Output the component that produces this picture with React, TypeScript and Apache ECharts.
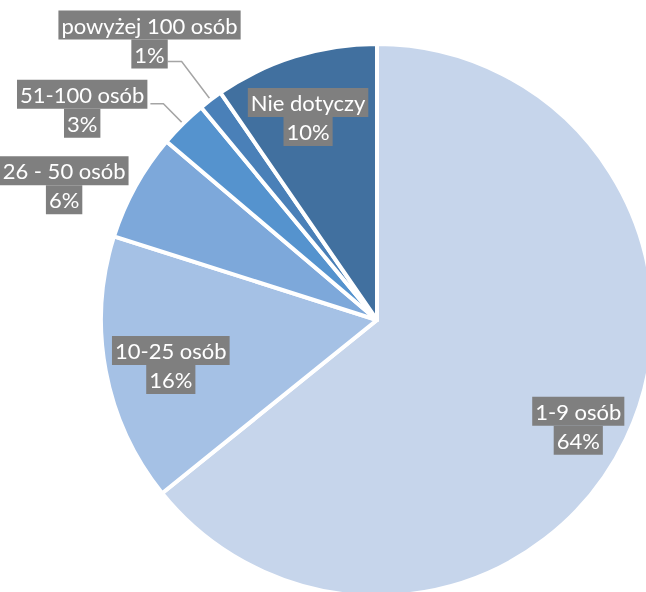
import React, { useEffect, useRef } from "react";
import * as echarts from "echarts";

const categories = ["1-9 osób", "10-25 osób", "26 - 50 osób", "51-100 osób", "powyżej 100 osób", "Nie dotyczy"];
const values = [64.2, 15.7, 6.3, 2.8, 1.4, 9.6];
const colors = ["#C6D5EB", "#A5C1E5", "#7DA8DA", "#5593CE", "#4A80B8", "#41709F"];

export default function App() {
  const ref = useRef<HTMLDivElement>(null);
  useEffect(() => {
    const chart = echarts.init(ref.current!, null, { renderer: "svg" });
    const center = [377, 320];
    const R = 276;
    const rich = {
      a: {
        color: "#ffffff",
        backgroundColor: "#7F7F7F",
        fontFamily: "Lato",
        fontSize: 22,
        lineHeight: 29,
        height: 29,
        padding: [0, 3],
        align: "center",
      },
    };
    const outsideCfg: Record<number, any> = {
      2: { len: 0, len2: 0, dist: 7, show: false },
      3: { len: 28, len2: 13, dist: 3, show: true },
      4: { len: 48, len2: 14, dist: -73, show: true },
    };
    const nudges: Record<number, { dx: number; dy: number }> = {
      0: { dx: 1, dy: 10 },
      1: { dx: 12, dy: 4 },
      2: { dx: 0, dy: -1 },
      3: { dx: 0, dy: 5 },
      4: { dx: 0, dy: -22 },
      5: { dx: -3, dy: 9 },
    };
    const labelData = categories.map((c, i) => {
      const o = outsideCfg[i];
      const item: any = { name: c, value: values[i] };
      if (o) {
        item.label = {
          position: "outside",
          distanceToLabelLine: o.dist,
        };
        item.labelLine = {
          show: o.show,
          length: o.len,
          length2: o.len2,
          lineStyle: { color: "#A5A5A5", width: 1.5 },
        };
      }
      return item;
    });
    chart.setOption({
      animation: false,
      series: [
        {
          type: "pie",
          center,
          radius: R,
          startAngle: 90,
          clockwise: true,
          silent: true,
          label: { show: false },
          labelLine: { show: false },
          itemStyle: { borderColor: "#ffffff", borderWidth: 4 },
          data: categories.map((c, i) => ({ name: c, value: values[i], itemStyle: { color: colors[i] } })),
        },
        {
          type: "pie",
          center,
          radius: [162, R],
          startAngle: 90,
          clockwise: true,
          silent: true,
          avoidLabelOverlap: false,
          percentPrecision: 0,
          itemStyle: { color: "transparent", borderWidth: 0 },
          emphasis: { disabled: true },
          label: {
            show: true,
            position: "inside",
            formatter: "{a|{b}}\n{a|{d}%}",
            rich,
          },
          labelLine: { show: false },
          labelLayout: (p: any) => nudges[p.dataIndex] || {},
          data: labelData,
        },
      ],
    });
    return () => chart.dispose();
  }, []);
  return <div ref={ref} style={{ position: "fixed", left: 0, top: 0, width: 646, height: 592 }} />;
}
